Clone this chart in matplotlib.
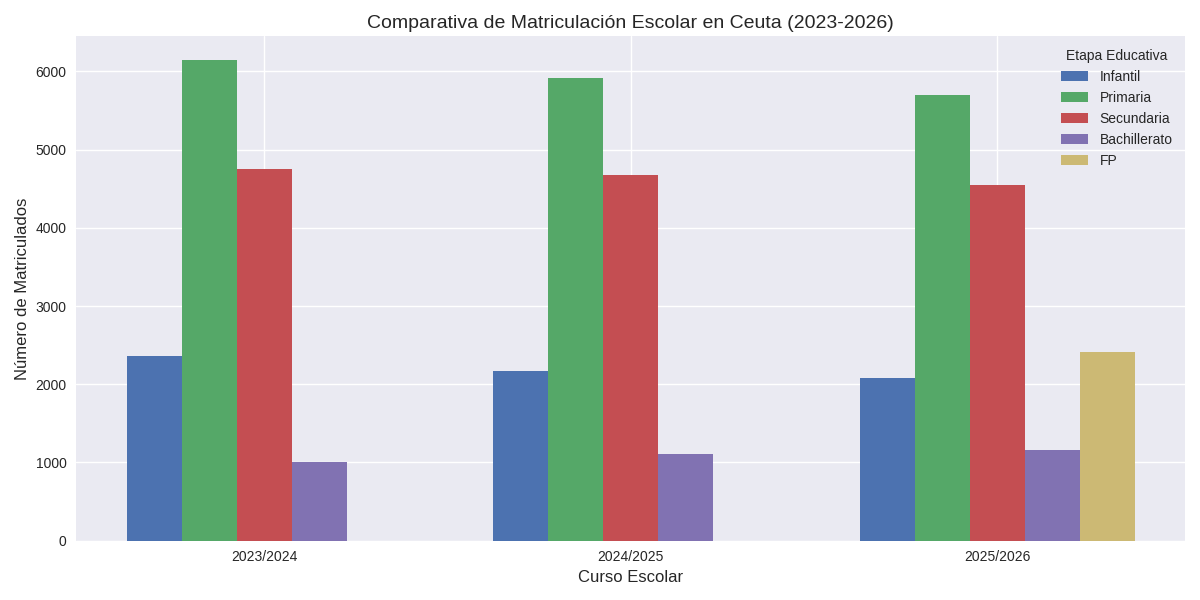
import numpy as np
import matplotlib
matplotlib.use("Agg")
import matplotlib.pyplot as plt

plt.style.use("seaborn-v0_8")

# Datos
cursos = ["2023/2024", "2024/2025", "2025/2026"]
infantil = [2360, 2170, 2080]
primaria = [6140, 5920, 5695]
secundaria = [4750, 4670, 4545]
bachillerato = [1010, 1110, 1160]
fp = [np.nan, np.nan, 2410]

series = {
    "Infantil": infantil,
    "Primaria": primaria,
    "Secundaria": secundaria,
    "Bachillerato": bachillerato,
    "FP": fp,
}

x = np.arange(len(cursos))
width = 0.15

fig, ax = plt.subplots(figsize=(12, 6))
for i, (nombre, vals) in enumerate(series.items()):
    ax.bar(x + (i - 2) * width, vals, width, label=nombre)

ax.set_title("Comparativa de Matriculación Escolar en Ceuta (2023-2026)", fontsize=14)
ax.set_xlabel("Curso Escolar", fontsize=12)
ax.set_ylabel("Número de Matriculados", fontsize=12)
ax.set_xticks(x)
ax.set_xticklabels(cursos)
ax.legend(title="Etapa Educativa", loc="upper right")

plt.tight_layout()
plt.savefig("out.png", dpi=100)
